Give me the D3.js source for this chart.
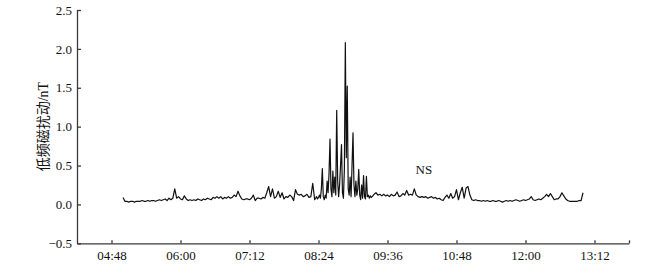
<!DOCTYPE html>
<html>
<head>
<meta charset="utf-8">
<script src="https://cdn.jsdelivr.net/npm/d3@7"></script>
<style>
  body { margin: 0; background: #fff; }
  text { font-family: "Liberation Serif", "Noto Sans CJK SC", serif; }
</style>
</head>
<body>
<script>
// 时间轴标签
const tickLabels = ["04:48", "06:00", "07:12", "08:24", "09:36", "10:48", "12:00", "13:12"];
const yTicks = [-0.5, 0, 0.5, 1.0, 1.5, 2.0, 2.5];

// 05:00 - 08:18, every 2 min
const amStart = "05:00";
const amValues = [
  0.09, 0.04, 0.04, 0.03, 0.04, 0.04, 0.03, 0.04, 0.04, 0.04,
  0.05, 0.04, 0.04, 0.05, 0.04, 0.05, 0.05, 0.04, 0.05, 0.06,
  0.05, 0.06, 0.07, 0.05, 0.08, 0.06, 0.08, 0.20, 0.08, 0.10,
  0.07, 0.06, 0.11, 0.07, 0.05, 0.06, 0.05, 0.06, 0.05, 0.07,
  0.06, 0.05, 0.07, 0.06, 0.08, 0.07, 0.06, 0.09, 0.08, 0.10,
  0.08, 0.10, 0.07, 0.09, 0.08, 0.10, 0.08, 0.09, 0.12, 0.10,
  0.17, 0.11, 0.07, 0.06, 0.07, 0.07, 0.06, 0.08, 0.12, 0.05,
  0.08, 0.08, 0.07, 0.09, 0.08, 0.15, 0.23, 0.10, 0.20, 0.08,
  0.10, 0.17, 0.09, 0.15, 0.07, 0.10, 0.09, 0.12, 0.10, 0.05,
  0.19, 0.13, 0.12, 0.13, 0.10, 0.11, 0.13, 0.09, 0.10, 0.27
];

// 08:20 - 09:20, every 1 min (扰动最强)
const burstStart = "08:20";
const burstValues = [
  0.06, 0.08, 0.10, 0.07, 0.09, 0.12, 0.08, 0.20, 0.46, 0.10,
  0.06, 0.12, 0.08, 0.30, 0.15, 0.40, 0.84, 0.20, 0.10, 0.43,
  0.15, 0.35, 0.12, 1.21, 0.30, 0.10, 0.25, 0.50, 0.77, 0.15,
  0.08, 0.45, 2.08, 0.60, 1.52, 0.20, 0.12, 0.35, 0.10, 0.50,
  0.92, 0.25, 0.10, 0.30, 0.12, 0.20, 0.45, 0.12, 0.06, 0.25,
  0.08, 0.37, 0.10, 0.07, 0.36, 0.10, 0.12, 0.08, 0.11, 0.09,
  0.10
];

// 09:22 - 13:00, every 2 min
const pmStart = "09:22";
const pmValues = [
  0.13, 0.15, 0.12, 0.13, 0.11, 0.13, 0.11, 0.12, 0.10, 0.13,
  0.11, 0.12, 0.16, 0.10, 0.11, 0.14, 0.12, 0.18, 0.12, 0.13,
  0.12, 0.20, 0.12, 0.10, 0.09, 0.10, 0.09, 0.10, 0.08, 0.09,
  0.10, 0.08, 0.09, 0.07, 0.08, 0.06, 0.05, 0.09, 0.12, 0.08,
  0.14, 0.08, 0.10, 0.19, 0.06, 0.15, 0.22, 0.08, 0.21, 0.23,
  0.12, 0.06, 0.05, 0.06, 0.05, 0.05, 0.04, 0.05, 0.04, 0.05,
  0.04, 0.04, 0.05, 0.04, 0.04, 0.05, 0.04, 0.03, 0.04, 0.05,
  0.04, 0.05, 0.04, 0.05, 0.06, 0.05, 0.04, 0.05, 0.06, 0.05,
  0.06, 0.07, 0.10, 0.06, 0.05, 0.06, 0.07, 0.06, 0.08, 0.10,
  0.13, 0.10, 0.14, 0.10, 0.06, 0.07, 0.07, 0.10, 0.15, 0.11,
  0.07, 0.05, 0.04, 0.04, 0.04, 0.04, 0.04, 0.05, 0.05, 0.15
];

const parse = d3.timeParse("%H:%M");

function series(start, step, values) {
  let t0 = parse(start);
  return values.map((v, i) => [d3.timeMinute.offset(t0, i * step), v]);
}

let data = series(amStart, 2, amValues)
  .concat(series(burstStart, 1, burstValues))
  .concat(series(pmStart, 2, pmValues));

const width = 648, height = 274;

const svg = d3.select("body")
  .append("svg")
  .attr("width", width)
  .attr("height", height);

const x = d3.scaleTime()
  .domain([parse("04:12"), parse("13:48")])
  .range([77, 629]);

const y = d3.scaleLinear()
  .domain([-0.5, 2.5])
  .range([243.3, 10]);

// x 轴
let xTickValues = tickLabels.map(parse).concat([parse("13:48")]);
svg.append("g")
  .attr("transform", `translate(0,${y(-0.5)})`)
  .call(d3.axisBottom(x)
    .tickValues(xTickValues)
    .tickFormat(d => {
      let s = d3.timeFormat("%H:%M")(d);
      return tickLabels.includes(s) ? s : "";
    })
    .tickSizeInner(-3)
    .tickSizeOuter(0)
    .tickPadding(7));

// y 轴
svg.append("g")
  .attr("transform", `translate(${x.range()[0]},0)`)
  .call(d3.axisLeft(y)
    .tickValues(yTicks)
    .tickFormat(d3.format(".1f"))
    .tickSizeInner(-4)
    .tickSizeOuter(0)
    .tickPadding(5));

svg.selectAll(".domain, .tick line")
  .attr("stroke", "#3a3a3a")
  .attr("stroke-width", 1.3);

svg.selectAll(".tick text")
  .attr("fill", "#111")
  .style("font-size", "13px");

// 曲线
const line = d3.line()
  .x(d => x(d[0]))
  .y(d => y(d[1]));

svg.append("path")
  .datum(data)
  .attr("fill", "none")
  .attr("stroke", "#111")
  .attr("stroke-width", 1.2)
  .attr("stroke-linejoin", "round")
  .attr("d", line);

// 标签
svg.append("text")
  .attr("transform", `translate(48,${(y(2.5) + y(-0.5)) / 2}) rotate(-90)`)
  .attr("text-anchor", "middle")
  .style("font-size", "14px")
  .attr("fill", "#111")
  .text("低频磁扰动/nT");

svg.append("text")
  .attr("x", x(parse("10:14")))
  .attr("y", 174)
  .attr("text-anchor", "middle")
  .style("font-size", "13px")
  .attr("fill", "#111")
  .text("NS");
</script>
</body>
</html>
